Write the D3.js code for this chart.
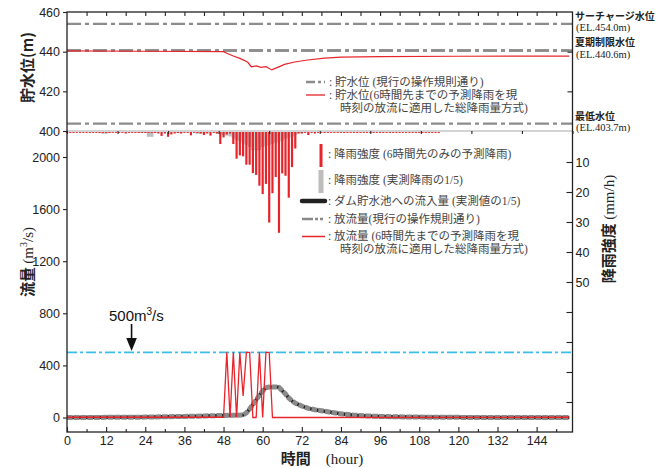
<!DOCTYPE html>
<html>
<head>
<meta charset="utf-8">
<script src="https://cdn.jsdelivr.net/npm/d3@7"></script>
<style>
  body { margin: 0; background: #fff; }
  svg { display: block; }
  .tick text { font-family: "Liberation Sans", Arial, sans-serif; font-size: 12.5px; fill: #222; }
  .leg { font-family: "Liberation Serif", "Noto Sans CJK JP", serif; font-size: 11.5px; fill: #444; }
  .ttl { font-family: "Noto Sans CJK JP", sans-serif; font-size: 15px; font-weight: bold; fill: #222; }
  .ttl .ser { font-family: "Liberation Serif", serif; font-weight: normal; }
  .side { font-family: "Noto Sans CJK JP", sans-serif; font-size: 10px; font-weight: bold; fill: #222; }
  .side2 { font-family: "Liberation Serif", serif; font-size: 10.5px; fill: #222; }
</style>
</head>
<body>
<svg id="chart" width="672" height="468"></svg>
<script>
// hourly rainfall intensity (mm/h), hour 0 onward
const rainForecast = [
  0.3, 0.3, 0.3, 0.3, 0.3, 0.3, 0.3, 0.3, 0.3, 0.3,
  0.3, 0.3, 0.3, 0.3, 0.3, 0.3, 0.3, 0.3, 0.5, 0.3,
  0.3, 0.3, 0.3, 0.3, 0.3, 0.3, 0.3, 0.3, 0.5, 1.3,
  0.5, 1.6, 0.8, 0.5, 0.3, 0.5, 0.3, 0.3, 1.1, 0.3,
  0.3, 0.5, 1.0, 0.5, 1.2, 0.3, 0.5, 4.0, 1.8, 0.8,
  0.5, 4.0, 8.9, 7.8, 8.1, 10.9, 10.9, 13.7, 14.3, 17.9,
  20.7, 17.3, 30.2, 20.4, 15.0, 33.6, 13.8, 14.6, 21.9, 11.7,
  5.5, 0.5, 0.5, 0.3, 1.0, 0.3, 0.5, 0.3, 0.3, 0.3,
  0.3, 0.3, 0.3, 0.3, 0.3, 0.3, 0.3, 0.3, 0.3, 0.3,
  0.3, 0.3, 0.3, 0.3, 0.3, 0.3, 0.3, 0.3, 0.3, 0.3,
  0.3, 0.3, 0.3, 0.3, 0.3, 0.3, 0.3, 0.3, 0.3, 0.3,
  0.3, 0.3, 0.3, 0.3, 0.3
];
const rainObserved = [
  0, 0, 0, 0, 0, 0, 0, 0, 0, 0,
  0.3, 0.6, 0.6, 0.3, 0, 0, 0, 0, 0, 0,
  0, 0, 0.3, 0.3, 0.3, 1.6, 1.6, 0.3, 0, 0,
  0, 0, 0, 0, 0.3, 0.3, 0, 0, 0, 0,
  0.6, 0.6, 0.3, 0, 0, 0, 0.5, 0.8, 1.0, 1.2,
  1.5, 2.1, 2.7, 3.0, 3.8, 4.2, 5.0, 6.0, 6.2, 6.0,
  5.0, 4.6, 4.4, 4.0, 3.6, 3.3, 2.8, 2.2, 2.0, 1.5,
  1.0, 0.5, 0.3, 0, 0, 0
];

// inflow (1/5 of observed), m3/s
const inflowHours = [0, 12, 24, 36, 42, 48, 52, 54, 55, 56, 57, 58, 59, 60, 61, 62, 63, 64, 65, 66, 67, 68, 69, 70, 72, 74, 76, 78, 80, 82, 84, 88, 92, 96, 100, 108, 120, 132, 144, 154];
const inflowValues = [0, 1, 3, 8, 12, 16, 18, 20, 35, 65, 100, 135, 170, 205, 228, 234, 235, 235, 232, 205, 180, 150, 128, 110, 88, 70, 60, 52, 44, 36, 28, 18, 12, 8, 6, 3, 1, 0, 0, 0];

// outflow with forecast-rain method
const outflowHours = [0, 48, 49, 50, 51, 52, 53, 54, 55, 56, 57, 58, 59, 60, 61, 62, 63, 154];
const outflowValues = [2, 2, 500, 0, 500, 0, 500, 165, 500, 500, 0, 0, 500, 0, 500, 500, 0, 2];

// reservoir water level (m)
const levelHours = [0, 24, 48, 49, 51, 53, 54.5, 55.5, 56.5, 58, 59.5, 61, 62.8, 64.6, 66.7, 69.8, 73.8, 79, 84, 96, 120, 154];
const levelForecast = [440.4, 440.2, 440.0, 439.2, 437.8, 436.6, 435.5, 434.5, 432.4, 432.8, 432.1, 432.4, 430.8, 432.1, 433.6, 434.8, 435.8, 436.7, 437.2, 437.5, 437.7, 437.8];
const levelCurrentHours = [0, 154];
const levelCurrent = [440.6, 440.6];

const refLevels = [454.0, 440.6, 403.7];
const refNames = ["サーチャージ水位", "夏期制限水位", "最低水位"];
const refElev = ["(EL.454.0m)", "(EL.440.6m)", "(EL.403.7m)"];
const flowLimit = 500;

const xTicks = [0, 12, 24, 36, 48, 60, 72, 84, 96, 108, 120, 132, 144];
const flowTicks = [0, 400, 800, 1200, 1600, 2000];
const levelTicks = [400, 420, 440, 460];
const rainTicks = [10, 20, 30, 40, 50, 60, 70, 80, 90];

const svg = d3.select("#chart");
const L = 67, R = 572.5, T = 12, B = 432;

const x = d3.scaleLinear().domain([0, 155]).range([L, R]);
const yLevel = d3.scaleLinear().domain([400, 460]).range([131, T]);
const yFlow = d3.scaleLinear().domain([0, 2000]).range([417.5, 157]);
const yRain = d3.scaleLinear().domain([0, 100]).range([132, B]);

// rainfall bars (observed gray behind, forecast red)
svg.append("g").selectAll("rect")
  .data(rainObserved.map((v, i) => ({ h: i, v: v })).filter(d => d.v > 0))
  .join("rect")
  .attr("x", d => x(d.h) - 1.65)
  .attr("width", 3.3)
  .attr("y", yRain(0))
  .attr("height", d => yRain(d.v) - yRain(0))
  .attr("fill", "#bdbdbd");

svg.append("g").selectAll("rect")
  .data(rainForecast.map((v, i) => ({ h: i, v: v })))
  .join("rect")
  .attr("x", d => x(d.h) - 1.1)
  .attr("width", 2.2)
  .attr("y", yRain(0))
  .attr("height", d => yRain(d.v) - yRain(0))
  .attr("fill", "#e8242b");

// divider of the upper panel
svg.append("line")
  .attr("x1", L).attr("x2", R)
  .attr("y1", yLevel(400)).attr("y2", yLevel(400))
  .attr("stroke", "#aaa").attr("stroke-width", 1.2);

// reference water levels
svg.append("g").selectAll("line")
  .data(refLevels)
  .join("line")
  .attr("x1", L).attr("x2", R)
  .attr("y1", d => yLevel(d)).attr("y2", d => yLevel(d))
  .attr("stroke", "#8c8c8c").attr("stroke-width", 2.4)
  .attr("stroke-dasharray", "14,4,4,4");

const levelLine = d3.line().x(d => x(d[0])).y(d => yLevel(d[1]));
svg.append("path")
  .attr("d", levelLine(levelCurrentHours.map((h, i) => [h, levelCurrent[i]])))
  .attr("fill", "none").attr("stroke", "#8c8c8c").attr("stroke-width", 2.4)
  .attr("stroke-dasharray", "14,4,4,4");
svg.append("path")
  .attr("d", levelLine(levelHours.map((h, i) => [h, levelForecast[i]])))
  .attr("fill", "none").attr("stroke", "#e8242b").attr("stroke-width", 1.2);

// 500 m3/s line
svg.append("line")
  .attr("x1", L).attr("x2", R)
  .attr("y1", yFlow(flowLimit)).attr("y2", yFlow(flowLimit))
  .attr("stroke", "#3bbde9").attr("stroke-width", 1.6)
  .attr("stroke-dasharray", "10,3,3,3");

// flows
const flowLine = d3.line().x(d => x(d[0])).y(d => yFlow(d[1]));
const inflowPts = inflowHours.map((h, i) => [h, inflowValues[i]]);
svg.append("path")
  .attr("d", flowLine(inflowPts))
  .attr("fill", "none").attr("stroke", "#222").attr("stroke-width", 3.5);
// current rule outflow follows the inflow (below 500)
svg.append("path")
  .attr("d", flowLine(inflowPts))
  .attr("fill", "none").attr("stroke", "#8a8a8a").attr("stroke-width", 5)
  .attr("stroke-dasharray", "5.5,1.3");
svg.append("path")
  .attr("d", flowLine(outflowHours.map((h, i) => [h, outflowValues[i]])))
  .attr("fill", "none").attr("stroke", "#e8242b").attr("stroke-width", 1.3)
  .attr("stroke-linejoin", "miter");

// frame
svg.append("rect")
  .attr("x", L).attr("y", T).attr("width", R - L).attr("height", B - T)
  .attr("fill", "none").attr("stroke", "#222").attr("stroke-width", 1.3);

// axes
svg.append("g").attr("transform", `translate(0,${B})`)
  .call(d3.axisBottom(x).tickValues(xTicks).tickSize(-5).tickPadding(4));
svg.append("g").attr("transform", `translate(0,${B})`)
  .call(d3.axisBottom(x).tickValues(xTicks.map(d => d + 6)).tickSize(-3).tickFormat(""));
svg.append("g").attr("transform", `translate(0,${T})`)
  .call(d3.axisTop(x).tickValues(d3.range(6, 155, 6)).tickSize(-4).tickFormat(""));
// upper panel's own bottom ticks
const xSub = d3.scaleLinear().domain([0, 10]).range([L, R]);
svg.append("g").attr("transform", `translate(0,${yLevel(400)})`)
  .call(d3.axisBottom(xSub).ticks(10).tickSize(3).tickFormat(""));

svg.append("g").attr("transform", `translate(${L},0)`)
  .call(d3.axisLeft(yFlow).tickValues(flowTicks).tickSize(4).tickPadding(3).tickFormat(d3.format("d")));
svg.append("g").attr("transform", `translate(${L},0)`)
  .call(d3.axisLeft(yLevel).tickValues(levelTicks).tickSize(4).tickPadding(3).tickFormat(d3.format("d")));
svg.append("g").attr("transform", `translate(${R},0)`)
  .call(d3.axisRight(yRain).tickValues(rainTicks).tickSize(-6).tickPadding(3)
    .tickFormat(d => d <= 50 ? d : ""));
svg.append("g").attr("transform", `translate(${R},0)`)
  .call(d3.axisRight(yLevel).tickValues([420, 440]).tickSize(-5).tickFormat(""));

svg.selectAll(".domain").remove();
svg.selectAll(".tick line").attr("stroke", "#222").attr("stroke-width", 1.1);

// axis titles
svg.append("text").attr("class", "ttl")
  .attr("transform", `translate(33,${yLevel(432)}) rotate(-90)`)
  .attr("text-anchor", "middle")
  .text("貯水位(m)");
const ft = svg.append("text").attr("class", "ttl")
  .attr("transform", "translate(33,262) rotate(-90)")
  .attr("text-anchor", "middle");
ft.append("tspan").text("流量 ");
ft.append("tspan").attr("class", "ser").text("(m");
ft.append("tspan").attr("class", "ser").attr("dy", -6).attr("font-size", 10).text("3");
ft.append("tspan").attr("class", "ser").attr("dy", 6).text("/s)");
const rt = svg.append("text").attr("class", "ttl")
  .attr("transform", "translate(614,229) rotate(-90)")
  .attr("text-anchor", "middle");
rt.append("tspan").text("降雨強度 ");
rt.append("tspan").attr("class", "ser").text("(mm/h)");
const xt = svg.append("text").attr("class", "ttl")
  .attr("x", 322).attr("y", 464).attr("text-anchor", "middle");
xt.append("tspan").text("時間　");
xt.append("tspan").attr("class", "ser").text("(hour)");

// labels of reference levels
refLevels.forEach((lv, i) => {
  const y0 = yLevel(lv);
  svg.append("text").attr("class", "side").attr("x", 575).attr("y", y0 - 4).text(refNames[i]);
  svg.append("text").attr("class", "side2").attr("x", 576).attr("y", y0 + 7.5).text(refElev[i]);
});

// 500 m3/s annotation
const at = svg.append("text")
  .attr("x", 109).attr("y", 321)
  .attr("font-family", "Liberation Sans, Arial, sans-serif").attr("font-size", 15).attr("fill", "#111");
at.append("tspan").text("500m");
at.append("tspan").attr("dy", -6).attr("font-size", 10).text("3");
at.append("tspan").attr("dy", 6).text("/s");
const ax = x(19.8);
svg.append("line").attr("x1", ax).attr("x2", ax).attr("y1", 324).attr("y2", 340)
  .attr("stroke", "#111").attr("stroke-width", 1.6);
svg.append("path")
  .attr("d", `M${ax - 5.3},338 L${ax + 5.3},338 L${ax},${yFlow(flowLimit) - 1.5} Z`)
  .attr("fill", "#111");

// upper legend
const lg1 = svg.append("g");
lg1.append("line").attr("x1", 306).attr("x2", 325).attr("y1", 82).attr("y2", 82)
  .attr("stroke", "#8c8c8c").attr("stroke-width", 2.4).attr("stroke-dasharray", "9,3,3,3");
lg1.append("line").attr("x1", 306).attr("x2", 325).attr("y1", 95).attr("y2", 95)
  .attr("stroke", "#e8242b").attr("stroke-width", 1.3);
lg1.append("text").attr("class", "leg").attr("x", 329).attr("y", 86).text(": 貯水位 (現行の操作規則通り)");
lg1.append("text").attr("class", "leg").attr("x", 329).attr("y", 99).text(": 貯水位(6時間先までの予測降雨を現");
lg1.append("text").attr("class", "leg").attr("x", 340).attr("y", 112).text("時刻の放流に適用した総降雨量方式)");

// lower legend
const lg2 = svg.append("g");
lg2.append("rect").attr("x", 319.5).attr("y", 144).attr("width", 3).attr("height", 23).attr("fill", "#e8242b");
lg2.append("rect").attr("x", 318.5).attr("y", 170).attr("width", 5).attr("height", 23).attr("fill", "#bdbdbd");
lg2.append("line").attr("x1", 302).attr("x2", 325).attr("y1", 201).attr("y2", 201)
  .attr("stroke", "#222").attr("stroke-width", 4.5).attr("stroke-linecap", "round");
lg2.append("line").attr("x1", 302).attr("x2", 325).attr("y1", 219).attr("y2", 219)
  .attr("stroke", "#8a8a8a").attr("stroke-width", 2.6).attr("stroke-dasharray", "11,2,3,2,3,2");
lg2.append("line").attr("x1", 302).attr("x2", 325).attr("y1", 236.5).attr("y2", 236.5)
  .attr("stroke", "#e8242b").attr("stroke-width", 1.5);
const lt = [
  [328, 158, ": 降雨強度 (6時間先のみの予測降雨)"],
  [328, 184, ": 降雨強度 (実測降雨の1/5)"],
  [328, 205, ": ダム貯水池への流入量 (実測値の1/5)"],
  [328, 222.5, ": 放流量(現行の操作規則通り)"],
  [328, 239.5, ": 放流量 (6時間先までの予測降雨を現"],
  [340, 252.5, "時刻の放流に適用した総降雨量方式)"]
];
lg2.selectAll("text").data(lt).join("text")
  .attr("class", "leg")
  .attr("x", d => d[0]).attr("y", d => d[1])
  .text(d => d[2]);
</script>
</body>
</html>
